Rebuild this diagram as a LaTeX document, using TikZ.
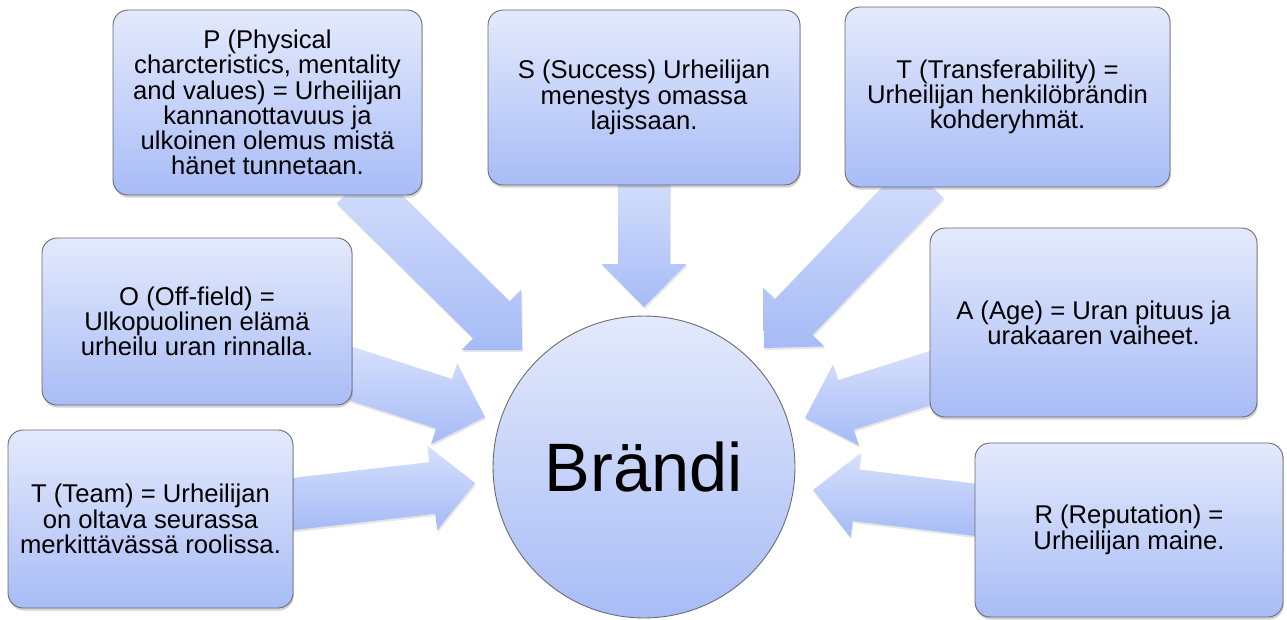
\documentclass[tikz,border=0pt]{standalone}
\usepackage{fontspec}
\setmainfont{Liberation Sans}
\usetikzlibrary{calc,shadows}
\definecolor{boxtop}{RGB}{228,234,252}
\definecolor{boxbottom}{RGB}{168,188,246}
\definecolor{arrowtop}{RGB}{214,224,252}
\definecolor{arrowbottom}{RGB}{166,187,246}
\definecolor{rimgray}{RGB}{105,105,110}
\pgfdeclarelayer{background}
\pgfsetlayers{background,main}
\tikzset{
  factbox/.style={draw=rimgray, line width=0.5pt, rounded corners=0.3cm,
    top color=boxtop, bottom color=boxbottom, align=center, inner sep=0pt,
    font=\fontsize{14.6}{14.4}\selectfont,
    drop shadow={shadow xshift=0.5pt, shadow yshift=-1.5pt, opacity=0.35}},
  flowarrow/.style={top color=arrowtop, bottom color=arrowbottom,
    drop shadow={shadow xshift=0.5pt, shadow yshift=-1.2pt, opacity=0.2}},
}
% block arrow from (#1-from) to (#1-to)
\newcommand{\blockarrow}[1]{%
  \coordinate (#1-base) at ($(#1-to)!0.86cm!(#1-from)$);
  \path[flowarrow] ($(#1-from)!0.52cm!90:(#1-to)$) -- ($(#1-base)!0.52cm!90:(#1-to)$)
    -- ($(#1-base)!0.85cm!90:(#1-to)$) -- (#1-to) -- ($(#1-base)!0.85cm!-90:(#1-to)$)
    -- ($(#1-base)!0.52cm!-90:(#1-to)$) -- ($(#1-from)!0.52cm!-90:(#1-to)$) -- cycle;}

\begin{document}
\begin{tikzpicture}[x=0.02cm, y=-0.02cm]
  \useasboundingbox (0,0) rectangle (1287,619);

  % centre
  \node[circle, draw=rimgray, line width=0.5pt, top color=boxtop, bottom color=boxbottom,
    minimum size=6.04cm, inner sep=0pt, font=\fontsize{39}{40}\selectfont] (brand) at (644,467) {Brändi};

  % boxes
  \node[factbox, minimum width=6.18cm, minimum height=3.70cm] (pbox) at (267.5,102.5)
    {P (Physical\\ charcteristics, mentality\\ and values) = Urheilijan\\ kannanottavuus ja\\ ulkoinen olemus mistä\\ hänet tunnetaan.};
  \node[factbox, minimum width=6.24cm, minimum height=3.50cm] (sbox) at (644,97.5)
    {S (Success) Urheilijan\\ menestys omassa\\ lajissaan.};
  \node[factbox, minimum width=6.50cm, minimum height=3.60cm] (tfbox) at (1007.5,97)
    {T (Transferability) =\\ Urheilijan henkilöbrändin\\ kohderyhmät.};
  \node[factbox, minimum width=6.20cm, minimum height=3.34cm] (obox) at (197,321.5)
    {O (Off-field) =\\ Ulkopuolinen elämä\\ urheilu uran rinnalla.};
  \node[factbox, minimum width=6.54cm, minimum height=3.78cm] (abox) at (1093.5,322.5)
    {A (Age) = Uran pituus ja\\ urakaaren vaiheet.};
  \node[factbox, minimum width=5.70cm, minimum height=3.56cm] (tmbox) at (150.5,519)
    {T (Team) = Urheilijan\\ on oltava seurassa\\ merkittävässä roolissa.};
  \node[factbox, minimum width=6.16cm, minimum height=3.48cm] (rbox) at (1129,530)
    {R (Reputation) =\\ Urheilijan maine.};

  % arrow ends
  \coordinate (p-from) at (355,185);   \coordinate (p-to) at (522,350);
  \coordinate (s-from) at (644,175);   \coordinate (s-to) at (644,307);
  \coordinate (tf-from) at (925,180);  \coordinate (tf-to) at (764,348);
  \coordinate (o-from) at (340,370);   \coordinate (o-to) at (485,417);
  \coordinate (a-from) at (940,375);   \coordinate (a-to) at (805,418);
  \coordinate (tm-from) at (285,505);  \coordinate (tm-to) at (475,483);
  \coordinate (r-from) at (985,511);   \coordinate (r-to) at (813,490);

  \begin{pgfonlayer}{background}
    \foreach \n in {p,s,tf,o,a,tm,r}
      {\blockarrow{\n}}
  \end{pgfonlayer}
\end{tikzpicture}
\end{document}
